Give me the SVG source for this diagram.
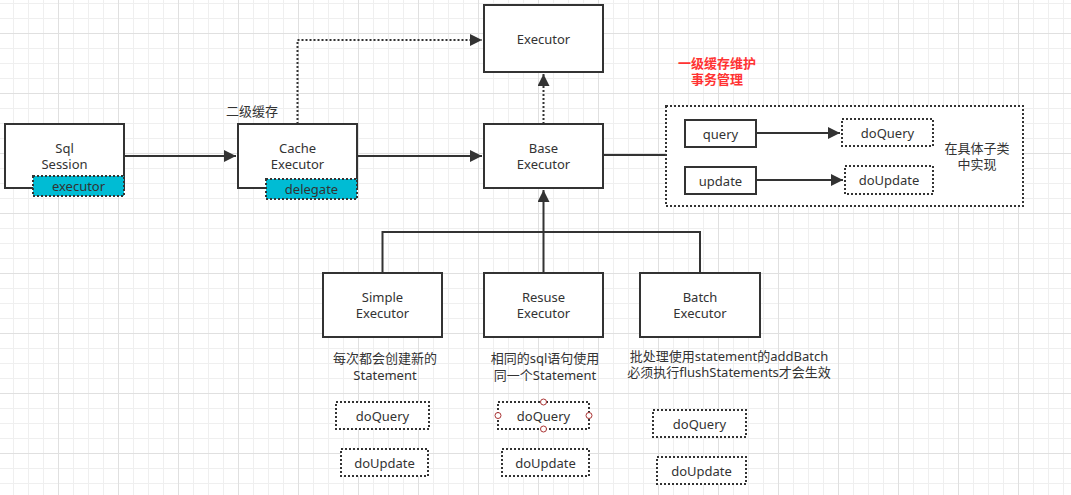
<svg xmlns="http://www.w3.org/2000/svg" width="1071" height="495" viewBox="0 0 1071 495">
<defs>
<pattern id="grid" x="-2" y="-27" width="60" height="60" patternUnits="userSpaceOnUse">
<path d="M15.5 0V60M30.5 0V60M45.5 0V60M0 15.5H60M0 30.5H60M0 45.5H60" stroke="#efefef" stroke-width="1" fill="none"/>
<path d="M0.5 0V60M0 0.5H60" stroke="#e0e0e0" stroke-width="1" fill="none"/>
</pattern>
<marker id="arr" markerUnits="userSpaceOnUse" markerWidth="14" markerHeight="12" refX="12" refY="6" orient="auto">
<path d="M0 0L12 6L0 12z" fill="#333"/>
</marker>
</defs>
<style>
.box{fill:#fff;stroke:#333;stroke-width:2}
.dot{fill:#fff;stroke:#333;stroke-width:2;stroke-dasharray:2 2}
.cyan{fill:#00bcd4;stroke:#333;stroke-width:2;stroke-dasharray:2 2}
.ln{fill:none;stroke:#333;stroke-width:2}
.dl{fill:none;stroke:#333;stroke-width:2;stroke-dasharray:2 2}
text{font-family:"Noto Sans","Noto Sans CJK SC",sans-serif;font-size:13px;fill:#333;text-anchor:middle;dominant-baseline:central}
.red{fill:#ff3333;font-weight:bold}
.h{fill:#fff;stroke:#a33;stroke-width:1}
</style>
<rect width="1071" height="495" fill="#fff"/>
<rect width="1071" height="495" fill="url(#grid)"/>

<g id="container">
<rect class="dot" x="666" y="106" width="357" height="100"/>
<text x="977" y="148">在具体子类</text>
<text x="977" y="164">中实现</text>
</g>

<g id="connectors">
<path class="ln" d="M124 156H236" marker-end="url(#arr)"/>
<path class="ln" d="M357 156H482" marker-end="url(#arr)"/>
<path class="dl" d="M297.5 124V40H482" marker-end="url(#arr)"/>
<path class="dl" d="M543.5 124V74" marker-end="url(#arr)"/>
<path class="ln" d="M603 155H666"/>
<path class="ln" d="M756 133H840" marker-end="url(#arr)"/>
<path class="ln" d="M756 180H843" marker-end="url(#arr)"/>
<path class="ln" d="M382.5 273V232H700V273M543.5 273V190" marker-end="url(#arr)"/>
</g>

<g id="sqlsession">
<rect class="box" x="5" y="124" width="119" height="64"/>
<text x="64.5" y="148">Sql</text>
<text x="64.5" y="164">Session</text>
<rect class="cyan" x="33" y="176" width="91" height="20"/>
<text x="78.5" y="186">executor</text>
</g>

<g id="cacheexecutor">
<rect class="box" x="238" y="124" width="119" height="64"/>
<text x="297.5" y="148">Cache</text>
<text x="297.5" y="164">Executor</text>
<rect class="cyan" x="266" y="179" width="91" height="20"/>
<text x="311.5" y="189">delegate</text>
</g>
<text x="252" y="111">二级缓存</text>

<g id="executor">
<rect class="box" x="484" y="5" width="119" height="67"/>
<text x="543.5" y="39">Executor</text>
</g>

<g id="baseexecutor">
<rect class="box" x="484" y="124" width="119" height="64"/>
<text x="543.5" y="148">Base</text>
<text x="543.5" y="164">Executor</text>
</g>

<g id="note-red">
<text class="red" x="717" y="63">一级缓存维护</text>
<text class="red" x="717" y="79">事务管理</text>
</g>

<g id="query"><rect class="box" x="685" y="120" width="71" height="27"/><text x="720.5" y="133.5">query</text></g>
<g id="update"><rect class="box" x="685" y="167" width="71" height="27"/><text x="720.5" y="180.5">update</text></g>
<g id="doquery-top"><rect class="dot" x="842" y="119" width="91" height="27"/><text x="887.5" y="132.5">doQuery</text></g>
<g id="doupdate-top"><rect class="dot" x="845" y="166" width="88" height="28"/><text x="889" y="180">doUpdate</text></g>

<g id="simple">
<rect class="box" x="323" y="273" width="119" height="64"/>
<text x="382.5" y="297">Simple</text>
<text x="382.5" y="313">Executor</text>
</g>
<g id="resuse">
<rect class="box" x="484" y="273" width="119" height="64"/>
<text x="543.5" y="297">Resuse</text>
<text x="543.5" y="313">Executor</text>
</g>
<g id="batch">
<rect class="box" x="640" y="273" width="120" height="64"/>
<text x="700" y="297">Batch</text>
<text x="700" y="313">Executor</text>
</g>

<g id="notes">
<text x="385" y="358">每次都会创建新的</text>
<text x="385" y="375">Statement</text>
<text x="545" y="358">相同的sql语句使用</text>
<text x="545" y="375">同一个Statement</text>
<text x="729" y="356">批处理使用statement的addBatch</text>
<text x="729" y="372">必须执行flushStatements才会生效</text>
</g>

<g id="simple-doquery"><rect class="dot" x="336" y="402" width="93" height="27"/><text x="382.5" y="415.5">doQuery</text></g>
<g id="simple-doupdate"><rect class="dot" x="341" y="449" width="87" height="27"/><text x="384.5" y="462.5">doUpdate</text></g>
<g id="resuse-doquery">
<rect class="dot" x="498" y="402" width="91" height="27"/><text x="543.5" y="415.5">doQuery</text>
<circle class="h" cx="543.5" cy="402" r="3"/><circle class="h" cx="543.5" cy="429" r="3"/>
<circle class="h" cx="498" cy="415.5" r="3"/><circle class="h" cx="589" cy="415.5" r="3"/>
</g>
<g id="resuse-doupdate"><rect class="dot" x="502" y="449" width="87" height="27"/><text x="545.5" y="462.5">doUpdate</text></g>
<g id="batch-doquery"><rect class="dot" x="653" y="410" width="93" height="27"/><text x="699.5" y="423.5">doQuery</text></g>
<g id="batch-doupdate"><rect class="dot" x="657" y="457" width="89" height="27"/><text x="701.5" y="470.5">doUpdate</text></g>
</svg>
